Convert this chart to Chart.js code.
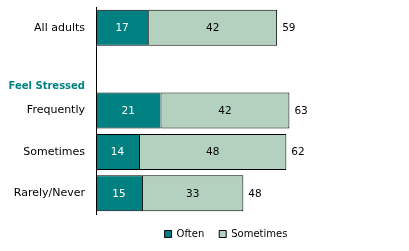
<!DOCTYPE html>
<html><head><meta charset="utf-8">
<script src="https://cdn.jsdelivr.net/npm/chart.js@4/dist/chart.umd.min.js"></script>
<style>html,body{margin:0;padding:0;background:#fff}#wrap{width:409px;height:251px;position:relative}</style>
</head><body><div id="wrap"><canvas id="c"></canvas></div>
<script>
const categories = ["All adults", ["", "", "Feel Stressed"], "Frequently", "Sometimes", "Rarely/Never"];
const seriesNames = ["Often", "Sometimes"];
const often = [17, null, 21, 14, 15];
const sometimes = [42, null, 42, 48, 33];
const totals = [59, null, 63, 62, 48];

const TEAL = '#008080';
const GREEN = '#B4D1BF';
const FAMILY = '"DejaVu Sans", Verdana, sans-serif';

const labelPlugin = {
  id: 'valueLabels',
  afterLayout(chart) {
    if (chart.legend) { chart.legend.left = 49; }
  },
  afterDatasetsDraw(chart) {
    const ctx = chart.ctx;
    ctx.save();
    ctx.font = '10.5px ' + FAMILY;
    ctx.textBaseline = 'middle';
    const colors = ['#fff', '#000'];
    [0, 1].forEach(di => {
      const meta = chart.getDatasetMeta(di);
      meta.data.forEach((bar, i) => {
        const v = chart.data.datasets[di].data[i];
        if (v == null) return;
        ctx.fillStyle = colors[di];
        ctx.textAlign = 'center';
        ctx.fillText(String(v), (bar.x + bar.base) / 2, bar.y + 0.5);
      });
    });
    const meta = chart.getDatasetMeta(1);
    meta.data.forEach((bar, i) => {
      const t = totals[i];
      if (t == null) return;
      ctx.fillStyle = '#000';
      ctx.textAlign = 'left';
      ctx.fillText(String(t), bar.x + 5, bar.y + 0.5);
    });
    ctx.restore();
  }
};

new Chart(document.getElementById('c'), {
  type: 'bar',
  data: {
    labels: categories,
    datasets: [
      { label: seriesNames[0], data: often, backgroundColor: TEAL, borderColor: '#000', borderWidth: 1, borderSkipped: 'right', barPercentage: 0.87, categoryPercentage: 1 },
      { label: seriesNames[1], data: sometimes, backgroundColor: GREEN, borderColor: '#000', borderWidth: 1, borderSkipped: false, barPercentage: 0.87, categoryPercentage: 1 }
    ]
  },
  options: {
    indexAxis: 'y',
    responsive: true,
    maintainAspectRatio: false,
    animation: false,
    layout: { padding: { left: 0, right: 6, top: 7, bottom: 2 } },
    scales: {
      x: { stacked: true, display: false, min: 0, max: 100 },
      y: {
        stacked: true,
        afterFit(s) { s.width = 96; s.paddingTop = 0; s.paddingBottom = 0; s.paddingLeft = 0; s.paddingRight = 0; },
        grid: { display: true, drawOnChartArea: false, drawTicks: false },
        border: { display: true, color: '#000', width: 1 },
        ticks: {
          autoSkip: false,
          padding: 11,
          color: (c) => c.index === 1 ? TEAL : '#000',
          font: (c) => c.index === 1
            ? { family: FAMILY, size: 10, weight: 'bold', lineHeight: 1.7 }
            : { family: FAMILY, size: 11 }
        }
      }
    },
    plugins: {
      legend: {
        position: 'bottom',
        labels: { boxWidth: 7, boxHeight: 7, padding: 15, color: '#000', font: { family: FAMILY, size: 10 } }
      },
      tooltip: { enabled: false }
    }
  },
  plugins: [labelPlugin]
});
</script>
</body></html>
